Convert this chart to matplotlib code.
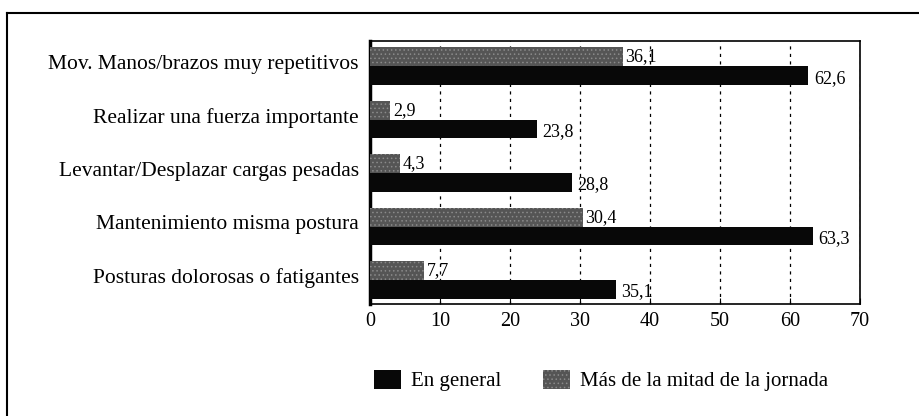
import matplotlib
matplotlib.use('Agg')
import matplotlib.pyplot as plt
import numpy as np
from matplotlib.lines import Line2D

plt.rcParams['font.family'] = ['Liberation Serif', 'DejaVu Serif']
plt.rcParams['hatch.linewidth'] = 0.6

# datos (% trabajadores)
categorias = ['Mov. Manos/brazos muy repetitivos',
              'Realizar una fuerza importante',
              'Levantar/Desplazar cargas pesadas',
              'Mantenimiento misma postura',
              'Posturas dolorosas o fatigantes']
en_general = [62.6, 23.8, 28.8, 63.3, 35.1]
mitad_jornada = [36.1, 2.9, 4.3, 30.4, 7.7]
xticks = [0, 10, 20, 30, 40, 50, 60, 70]


def fmt(v):
    return f'{v:.1f}'.replace('.', ',')


fig = plt.figure(figsize=(9.19, 4.16), dpi=100)
ax = fig.add_axes([0.4026, 0.2692, 0.5332, 0.6322])

y = np.arange(len(categorias))
h = 0.35

ax.barh(y - h / 2, mitad_jornada, h, color='#555555', hatch='....',
        edgecolor='#8a8a8a', linewidth=0, label='Más de la mitad de la jornada', zorder=3)
ax.barh(y + h / 2, en_general, h, color='#080808', linewidth=0,
        label='En general', zorder=3)

for i in range(len(categorias)):
    ax.text(mitad_jornada[i] + 0.4, y[i] - h / 2, fmt(mitad_jornada[i]),
            va='center', ha='left', fontsize=13, zorder=4)
    ax.text(en_general[i] + 0.8, y[i] + h / 2 + 0.05, fmt(en_general[i]),
            va='center', ha='left', fontsize=13, zorder=4)

ax.set_xlim(0, 70)
ax.set_ylim(4.45, -0.47)
ax.set_xticks(xticks)
ax.set_yticks(y - 0.08)
ax.set_yticklabels(categorias, fontsize=15.5)
ax.tick_params(axis='x', direction='in', length=4, labelsize=14.5, pad=6)
ax.tick_params(axis='y', length=0, pad=8)
ax.xaxis.grid(True, linestyle=(0, (2.5, 3.5)), color='black', linewidth=0.9)
ax.set_axisbelow(True)
for s in ['top', 'right', 'bottom']:
    ax.spines[s].set_linewidth(1.2)
ax.spines['left'].set_linewidth(2.5)

handles, labels = ax.get_legend_handles_labels()
leg = fig.legend([handles[1], handles[0]], [labels[1], labels[0]],
                 loc='center', bbox_to_anchor=(0.654, 0.085), ncol=2,
                 frameon=False, fontsize=15, handlelength=1.3, handleheight=1.0,
                 handletextpad=0.5, columnspacing=2.0)

# marco exterior (solo izquierda y arriba visibles en el original)
fig.add_artist(Line2D([0.008, 0.008], [0.0, 0.968], color='black', lw=1.5,
                      transform=fig.transFigure))
fig.add_artist(Line2D([0.008, 1.0], [0.968, 0.968], color='black', lw=1.5,
                      transform=fig.transFigure))

fig.savefig('out.png', dpi=100, facecolor='white')
